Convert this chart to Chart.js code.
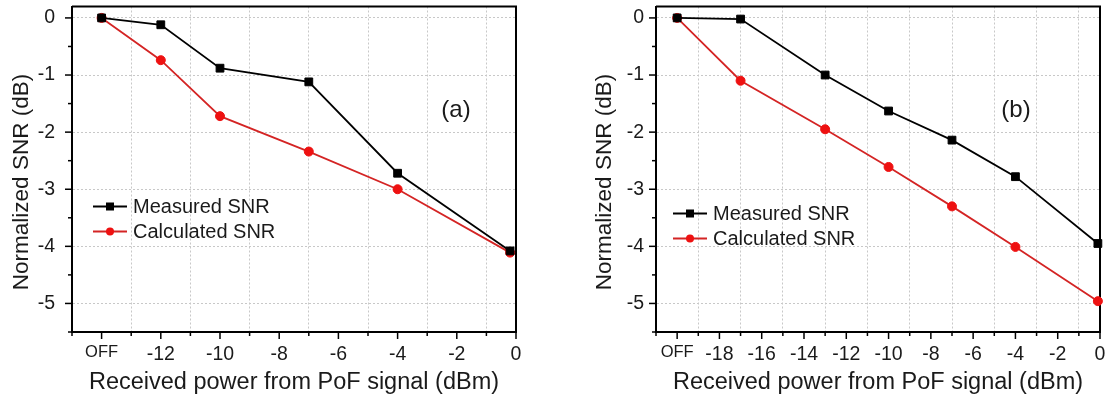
<!DOCTYPE html>
<html>
<head>
<meta charset="utf-8">
<script src="https://cdn.jsdelivr.net/npm/chart.js@4.4.1/dist/chart.umd.min.js"></script>
<style>
  html, body { margin: 0; padding: 0; background: #fff; }
  #wrap { position: relative; width: 1109px; height: 400px; }
  .box { position: absolute; top: 0; height: 400px; }
</style>
</head>
<body>
<div id="wrap">
  <div class="box" style="left:0;width:540px"><canvas id="chartA"></canvas></div>
  <div class="box" style="left:560px;width:549px"><canvas id="chartB"></canvas></div>
</div>
<script>
// panel (a): received power (dBm), OFF plotted at -14
const xA = [-14, -12, -10, -7, -4, -0.2];
const measuredA = [0, -0.12, -0.88, -1.12, -2.72, -4.08];
const calculatedA = [0, -0.74, -1.72, -2.34, -3.0, -4.11];

// panel (b): OFF plotted at -20
const xB = [-20, -17, -13, -10, -7, -4, -0.1];
const measuredB = [0, -0.02, -1.0, -1.63, -2.14, -2.78, -3.95];
const calculatedB = [0, -1.1, -1.95, -2.61, -3.3, -4.01, -4.96];

const xTickValuesA = [-14, -12, -10, -8, -6, -4, -2, 0];
const xTickLabelsA = ['OFF', '-12', '-10', '-8', '-6', '-4', '-2', '0'];
const xTickValuesB = [-20, -18, -16, -14, -12, -10, -8, -6, -4, -2, 0];
const xTickLabelsB = ['OFF', '-18', '-16', '-14', '-12', '-10', '-8', '-6', '-4', '-2', '0'];
const yTickValues = [0, -1, -2, -3, -4, -5];
const yTickLabels = ['0', '-1', '-2', '-3', '-4', '-5'];

const seriesNames = ['Measured SNR', 'Calculated SNR'];
const FONT = '"Liberation Sans", Arial, sans-serif';
const TXT = '#1a1a1a';

const panelDecor = {
  id: 'panelDecor',
  beforeDatasetsDraw(chart) {
    const { ctx, chartArea: a } = chart;
    ctx.save();
    ctx.strokeStyle = '#000';
    ctx.lineWidth = 2;
    ctx.beginPath();
    ctx.moveTo(a.left, a.top);
    ctx.lineTo(a.right, a.top);
    ctx.lineTo(a.right, a.bottom);
    ctx.stroke();
    ctx.restore();
  },
  afterDraw(chart, args, o) {
    const { ctx, chartArea: a, scales: { x, y } } = chart;
    ctx.save();
    // outward ticks, long on labelled values
    ctx.strokeStyle = '#000';
    ctx.lineWidth = 1.5;
    x.ticks.forEach(t => {
      const px = x.getPixelForValue(t.value);
      const len = t.value % 2 === 0 ? 7 : 4;
      ctx.beginPath();
      ctx.moveTo(px, a.bottom);
      ctx.lineTo(px, a.bottom + len);
      ctx.stroke();
    });
    y.ticks.forEach(t => {
      const py = y.getPixelForValue(t.value);
      const len = Math.abs(t.value - Math.round(t.value)) < 1e-6 ? 7 : 4;
      ctx.beginPath();
      ctx.moveTo(a.left, py);
      ctx.lineTo(a.left - len, py);
      ctx.stroke();
    });

    ctx.fillStyle = TXT;
    // y axis title
    ctx.save();
    ctx.translate(o.yTitleX, 182);
    ctx.rotate(-Math.PI / 2);
    ctx.font = '22.5px ' + FONT;
    ctx.textAlign = 'center';
    ctx.textBaseline = 'middle';
    ctx.fillText('Normalized SNR (dB)', 0, 0);
    ctx.restore();

    // panel tag
    ctx.font = '24px ' + FONT;
    ctx.textAlign = 'center';
    ctx.textBaseline = 'middle';
    ctx.fillText(o.tag, a.left + o.tagX, a.top + o.tagY);

    // legend
    chart.data.datasets.forEach((ds, i) => {
      const lx = a.left + o.legX;
      const ly = a.top + o.legY + i * 25;
      ctx.strokeStyle = ds.borderColor;
      ctx.lineWidth = 1.8;
      ctx.beginPath();
      ctx.moveTo(lx, ly);
      ctx.lineTo(lx + 34, ly);
      ctx.stroke();
      ctx.fillStyle = ds.pointBackgroundColor;
      if (ds.pointStyle === 'rect') {
        ctx.fillRect(lx + 17 - 4, ly - 4, 8, 8);
      } else {
        ctx.beginPath();
        ctx.arc(lx + 17, ly, 4, 0, Math.PI * 2);
        ctx.fill();
      }
      ctx.fillStyle = TXT;
      ctx.font = '20px ' + FONT;
      ctx.textAlign = 'left';
      ctx.textBaseline = 'middle';
      ctx.fillText(ds.label, lx + 40, ly + 1);
    });
    ctx.restore();
  }
};

function makePanel(id, xs, meas, calc, xMin, tickVals, tickLabels, p) {
  const isInt = v => Math.abs(v - Math.round(v)) < 1e-6;
  return new Chart(document.getElementById(id), {
    type: 'line',
    data: {
      datasets: [
        {
          label: seriesNames[0],
          data: xs.map((x, i) => ({ x: x, y: meas[i] })),
          borderColor: '#000000',
          borderWidth: 1.8,
          pointStyle: 'rect',
          pointRadius: 5.5,
          pointBackgroundColor: '#000000',
          pointBorderColor: '#000000',
          pointBorderWidth: 1,
          clip: false
        },
        {
          label: seriesNames[1],
          data: xs.map((x, i) => ({ x: x, y: calc[i] })),
          borderColor: '#d42424',
          borderWidth: 1.8,
          pointStyle: 'circle',
          pointRadius: 4.5,
          pointBackgroundColor: '#ee1111',
          pointBorderColor: '#ee1111',
          pointBorderWidth: 1,
          clip: false
        }
      ]
    },
    options: {
      responsive: true,
      maintainAspectRatio: false,
      animation: false,
      layout: { padding: { top: 5, right: p.padRight, left: 0, bottom: 0 } },
      plugins: {
        legend: { display: false },
        tooltip: { enabled: false },
        panelDecor: { tag: p.tag, tagX: p.tagX, tagY: 104, legX: p.legX, legY: p.legY, yTitleX: p.yTitleX }
      },
      scales: {
        x: {
          type: 'linear',
          min: xMin,
          max: 0,
          afterFit(scale) { scale.height = 68; scale.paddingLeft = 0; scale.paddingRight = 0; },
          ticks: {
            stepSize: 1,
            includeBounds: false,
            autoSkip: false,
            maxRotation: 0,
            minRotation: 0,
            padding: 11,
            color: TXT,
            font: ctx => ({ family: FONT, size: ctx.tick && ctx.tick.value === xMin + 1 ? 16.5 : 19.5 }),
            callback: v => {
              const k = tickVals.indexOf(v);
              return k >= 0 ? tickLabels[k] : '';
            }
          },
          grid: {
            drawTicks: false,
            lineWidth: 1,
            color: ctx => {
              const v = ctx.tick ? ctx.tick.value : 0;
              return (Math.abs(v % 2) === 1 && v > xMin) ? '#c8c8c8' : 'rgba(0,0,0,0)';
            }
          },
          border: { color: '#000', width: 2, dash: [2, 2] },
          title: {
            display: true,
            text: 'Received power from PoF signal (dBm)',
            color: TXT,
            font: { family: FONT, size: 23.5 },
            padding: { top: 0, bottom: 3 }
          }
        },
        y: {
          type: 'linear',
          min: -5.5,
          max: 0.2,
          afterFit(scale) { scale.width = p.yWidth; scale.paddingTop = 0; scale.paddingBottom = 0; },
          ticks: {
            stepSize: 0.5,
            includeBounds: false,
            padding: p.yPad,
            color: TXT,
            font: { family: FONT, size: 19.5 },
            callback: v => {
              if (!isInt(v)) return '';
              const k = yTickValues.indexOf(Math.round(v));
              return k >= 0 ? yTickLabels[k] : '';
            }
          },
          grid: {
            drawTicks: false,
            lineWidth: 1,
            color: ctx => (ctx.tick && isInt(ctx.tick.value)) ? '#c8c8c8' : 'rgba(0,0,0,0)'
          },
          border: { color: '#000', width: 2, dash: [2, 2] }
        }
      }
    },
    plugins: [panelDecor]
  });
}

makePanel('chartA', xA, measuredA, calculatedA, -15, xTickValuesA, xTickLabelsA,
  { padRight: 24, yWidth: 72, yPad: 17, tag: '(a)', tagX: 384, legX: 21, legY: 200, yTitleX: 22 });
makePanel('chartB', xB, measuredB, calculatedB, -21, xTickValuesB, xTickLabelsB,
  { padRight: 9, yWidth: 96, yPad: 12, tag: '(b)', tagX: 360, legX: 17, legY: 207, yTitleX: 45 });
</script>
</body>
</html>
